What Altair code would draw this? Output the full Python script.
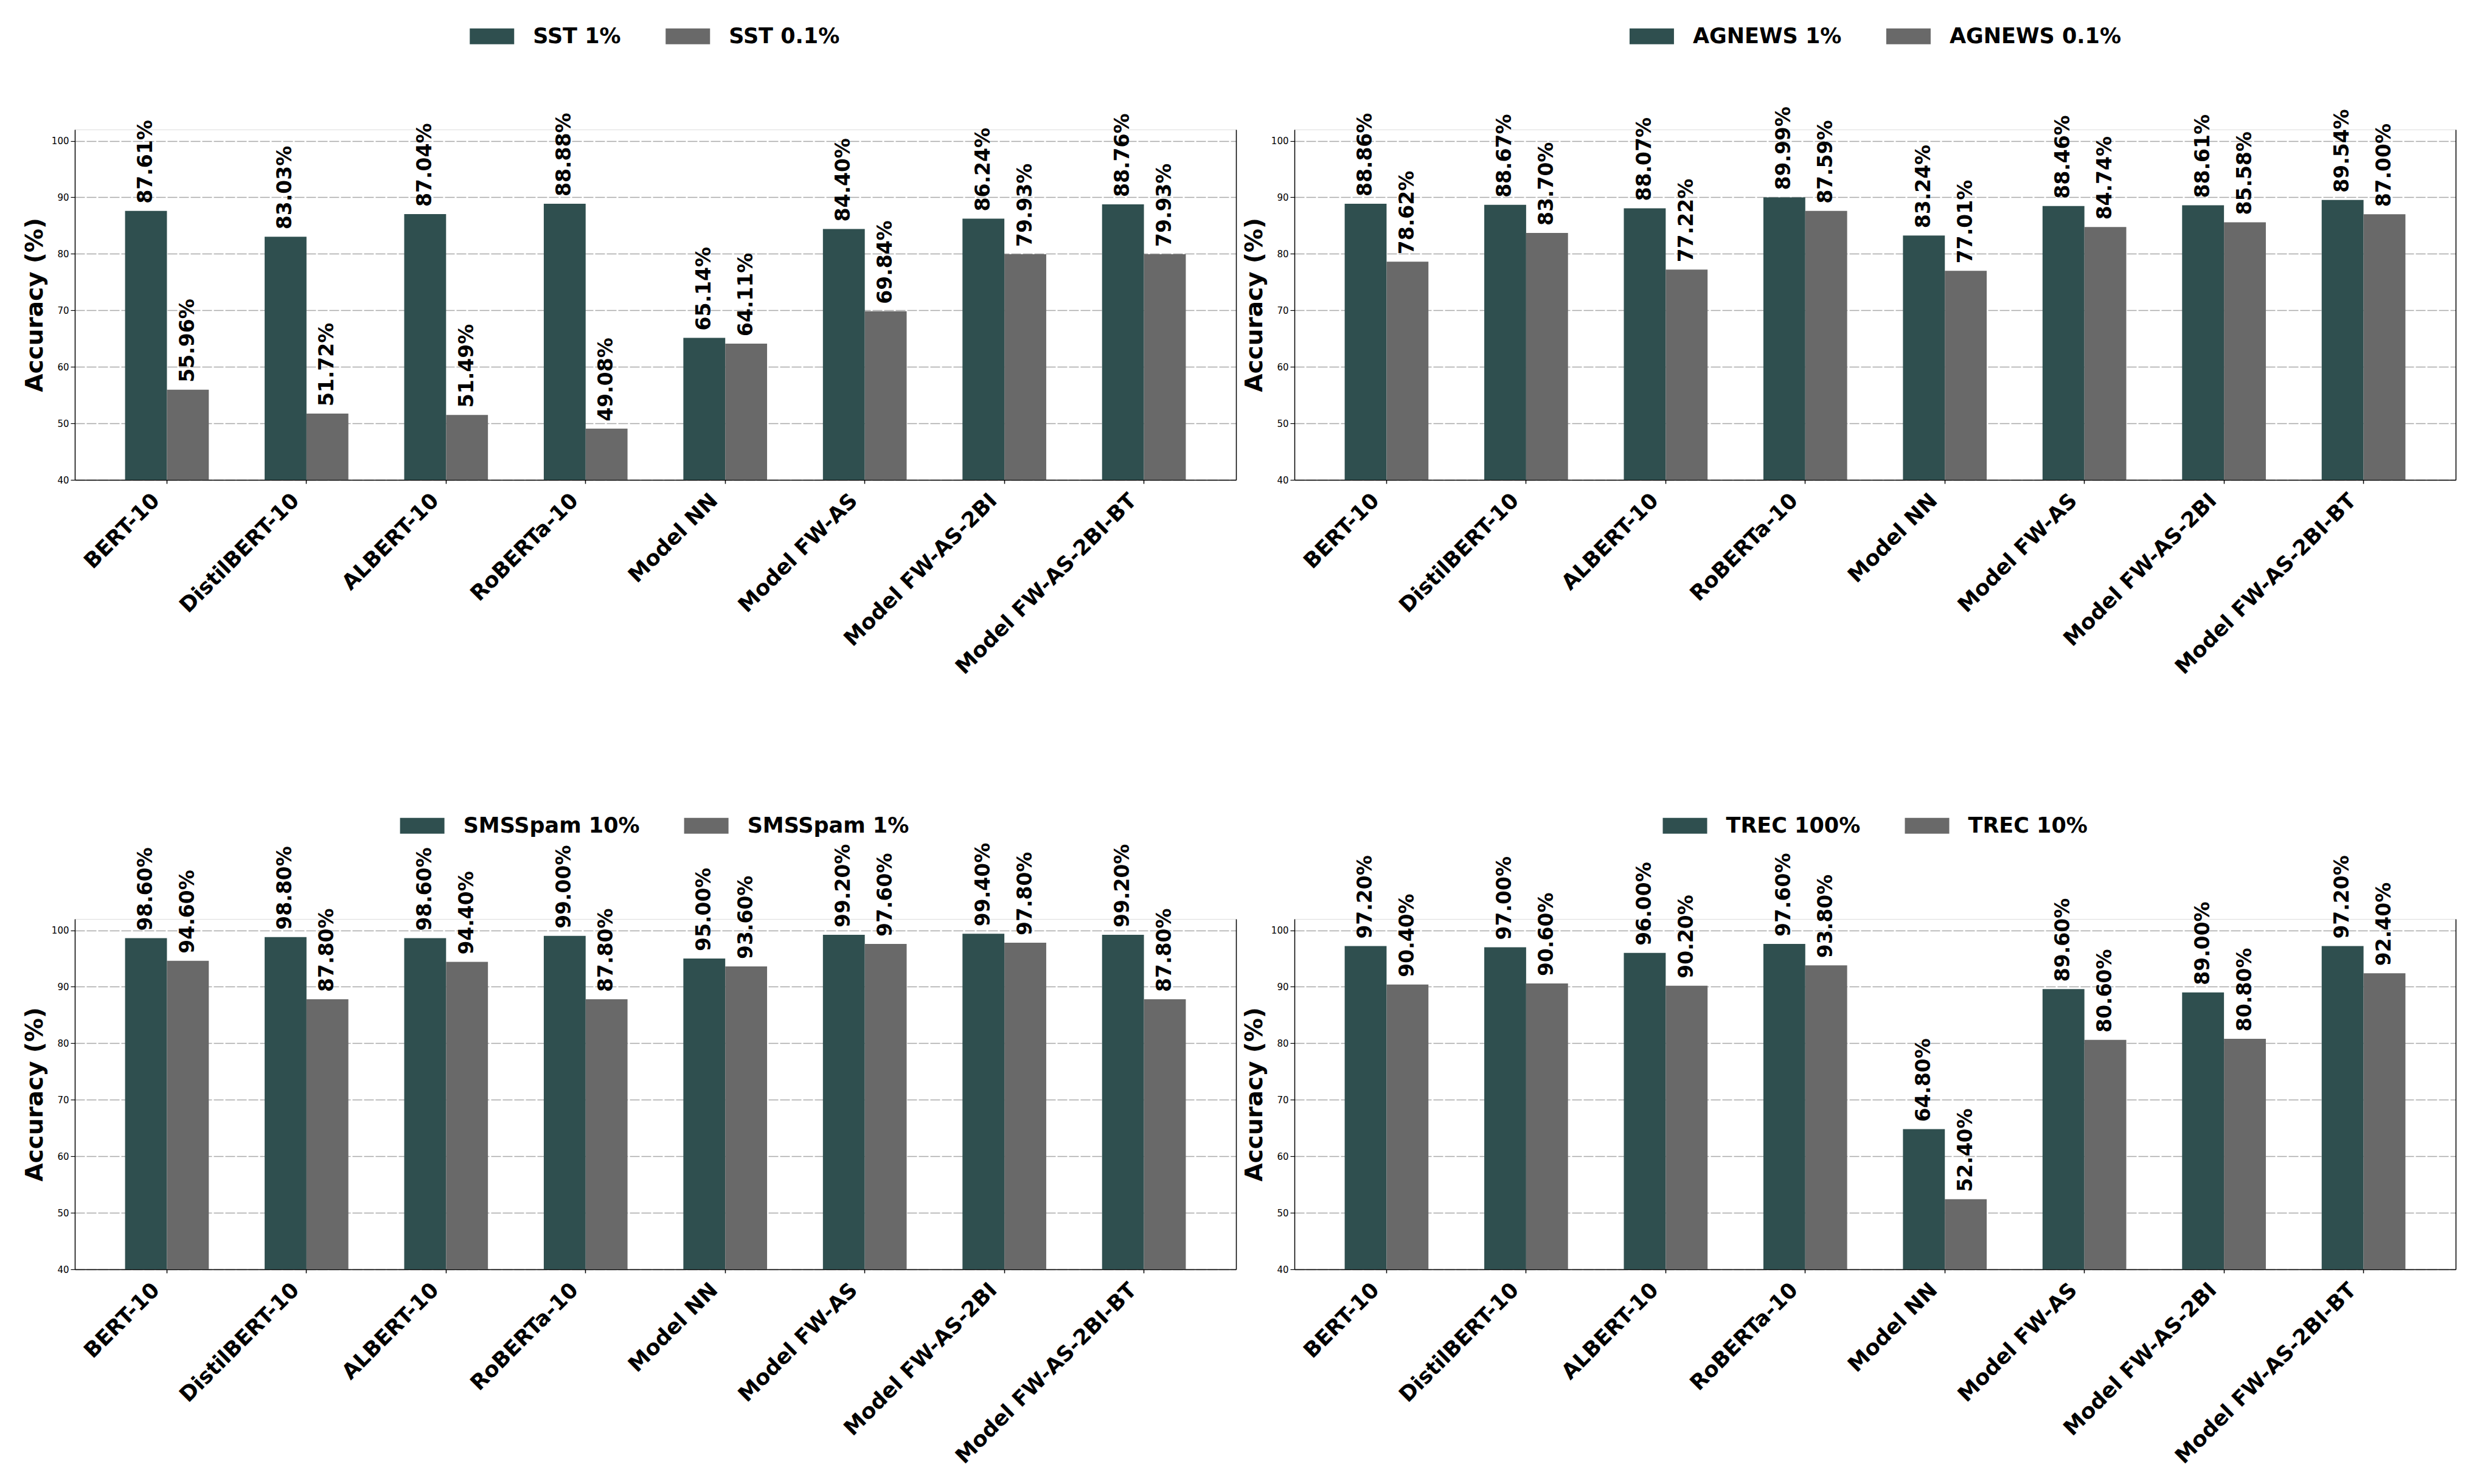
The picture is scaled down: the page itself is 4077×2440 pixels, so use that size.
import altair as alt
import pandas as pd

FONT = "DejaVu Sans"
COLORS = ["#2F4F4F", "#696969"]

models = ["BERT-10", "DistilBERT-10", "ALBERT-10", "RoBERTa-10",
          "Model NN", "Model FW-AS", "Model FW-AS-2BI", "Model FW-AS-2BI-BT"]

sst_names = ["SST 1%", "SST 0.1%"]
sst_high = [87.61, 83.03, 87.04, 88.88, 65.14, 84.40, 86.24, 88.76]
sst_low = [55.96, 51.72, 51.49, 49.08, 64.11, 69.84, 79.93, 79.93]

ag_names = ["AGNEWS 1%", "AGNEWS 0.1%"]
ag_high = [88.86, 88.67, 88.07, 89.99, 83.24, 88.46, 88.61, 89.54]
ag_low = [78.62, 83.70, 77.22, 87.59, 77.01, 84.74, 85.58, 87.00]

sms_names = ["SMSSpam 10%", "SMSSpam 1%"]
sms_high = [98.60, 98.80, 98.60, 99.00, 95.00, 99.20, 99.40, 99.20]
sms_low = [94.60, 87.80, 94.40, 87.80, 93.60, 97.60, 97.80, 87.80]

trec_names = ["TREC 100%", "TREC 10%"]
trec_high = [97.20, 97.00, 96.00, 97.60, 64.80, 89.60, 89.00, 97.20]
trec_low = [90.40, 90.60, 90.20, 93.80, 52.40, 80.60, 80.80, 92.40]

y_ticks = [40, 50, 60, 70, 80, 90, 100]

W, H = 1909, 576
LEG_FS = 35
SYM_W = 73
LABEL_OFF = 31
COL_PAD = 73

BOLD_W = {' ': 0.348, '%': 1.002, '.': 0.381, 'A': 0.774, 'C': 0.732,
          'E': 0.683, 'G': 0.821, 'M': 0.995, 'N': 0.837, 'R': 0.770,
          'S': 0.720, 'T': 0.682, 'W': 1.097, 'a': 0.675, 'm': 1.042,
          'p': 0.716}


def text_w(s, fs):
    return sum(BOLD_W.get(c, 0.696) for c in s) * fs


def panel(names, high, low):
    df = pd.DataFrame({
        "model": models * 2,
        "series": [names[0]] * len(models) + [names[1]] * len(models),
        "value": high + low,
    })
    df["label"] = df["value"].map(lambda v: f"{v:.2f}%")
    leg_w = 2 * (SYM_W + LABEL_OFF) + text_w(names[0], LEG_FS) + text_w(names[1], LEG_FS) + COL_PAD
    leg_x = (W - leg_w) / 2

    x = alt.X("model:N", sort=models,
              scale=alt.Scale(paddingInner=0.4, paddingOuter=0.36),
              axis=alt.Axis(title=None, labelAngle=-45, labelAlign="right",
                            labelBaseline="top", labelOffset=-30, labelPadding=10,
                            tickSize=6, tickColor="black", tickWidth=1.5,
                            domainColor="black", domainWidth=1.5,
                            labelFont=FONT, labelFontSize=35, labelFontWeight="bold",
                            labelColor="black", labelLimit=1000, labelOverlap=False,
                            grid=False))
    xo = alt.XOffset("series:N", sort=names,
                     scale=alt.Scale(domain=names, paddingInner=0, paddingOuter=0))
    yscale = alt.Scale(domain=[40, 102], nice=False, zero=False)

    bars = alt.Chart(df).mark_bar(clip=True).encode(
        x=x, xOffset=xo,
        y=alt.Y("value:Q", scale=yscale,
                axis=alt.Axis(values=y_ticks, title="Accuracy (%)",
                              titleFont=FONT, titleFontSize=39, titleFontWeight="bold",
                              titleColor="black", titlePadding=9,
                              labelFont=FONT, labelFontSize=15, labelColor="black",
                              labelPadding=3, tickSize=7, tickColor="black", tickWidth=1.2,
                              domainColor="black", domainWidth=1.5,
                              minExtent=37, maxExtent=37,
                              grid=True, gridColor="#a9a9a9", gridDash=[16, 3],
                              gridWidth=1.3)),
        color=alt.Color("series:N", sort=names,
                        scale=alt.Scale(domain=names, range=COLORS),
                        legend=alt.Legend(orient="none", legendX=leg_x, legendY=-190,
                                          direction="horizontal", title=None,
                                          symbolType="M-1,-0.356L1,-0.356L1,0.356L-1,0.356Z",
                                          symbolSize=SYM_W * SYM_W, symbolStrokeWidth=0,
                                          symbolOpacity=1,
                                          labelFont=FONT, labelFontSize=LEG_FS,
                                          labelFontWeight="bold", labelColor="black",
                                          labelOffset=LABEL_OFF, columnPadding=COL_PAD,
                                          padding=0, labelLimit=1000)),
    )
    texts = alt.Chart(df).mark_text(
        angle=270, align="left", baseline="middle", yOffset=-12,
        font=FONT, fontWeight="bold", fontSize=33, color="black"
    ).encode(
        x=x, xOffset=xo,
        y=alt.Y("value:Q", scale=yscale,
                axis=alt.Axis(orient="right", labels=False, ticks=False, grid=False,
                              title=None, domainColor="black", domainWidth=1.5)),
        text="label:N",
    )
    return alt.layer(bars, texts).resolve_scale(y="independent").properties(width=W, height=H)


chart = alt.concat(
    panel(sst_names, sst_high, sst_low),
    panel(ag_names, ag_high, ag_low),
    panel(sms_names, sms_high, sms_low),
    panel(trec_names, trec_high, trec_low),
    columns=2, spacing={"row": 722, "column": 96}, bounds="flush",
).resolve_scale(
    color="independent", xOffset="independent", x="independent", y="independent"
).properties(
    padding={"left": 29, "top": 14, "right": 5, "bottom": 5}
).configure_view(stroke=None).configure(background="white")

chart.save("out.html", embed_options={"renderer": "svg", "actions": False})
